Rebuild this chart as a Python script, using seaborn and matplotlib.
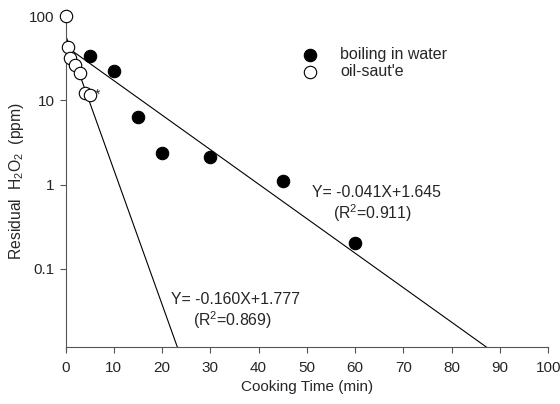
import matplotlib
matplotlib.use("Agg")
import matplotlib.pyplot as plt
import seaborn as sns
import numpy as np
from matplotlib.ticker import FixedLocator, FixedFormatter, NullLocator

# Residual H2O2 measurements (ppm) versus cooking time (min)
boil_time = [5, 10, 15, 20, 30, 45, 60]
boil_h2o2 = [33.5, 22.2, 6.4, 2.34, 2.13, 1.11, 0.203]
oil_time = [0, 0.5, 1, 2, 3, 4, 5]
oil_h2o2 = [100, 42.5, 31.5, 26.2, 20.9, 12.4, 11.7]

# log10(Y) = slope * X + intercept, with R^2
boil_slope, boil_intercept, boil_r2 = -0.041, 1.645, 0.911
oil_slope, oil_intercept, oil_r2 = -0.160, 1.777, 0.869

x_ticks = list(range(0, 101, 10))
y_ticks = [0.1, 1, 10, 100]
y_tick_labels = ["0.1", "1", "10", "100"]

sns.set_style("ticks")
plt.rcParams["font.family"] = ["Liberation Sans", "DejaVu Sans"]
plt.rcParams["mathtext.fontset"] = "custom"
plt.rcParams["mathtext.rm"] = "Liberation Sans"
plt.rcParams["mathtext.it"] = "Liberation Sans"

fig = plt.figure(figsize=(5.6, 4.04), dpi=100)
ax = fig.add_axes([0.117, 0.142, 0.862, 0.818])
ax.set_yscale("log")

# regression lines
xb = np.linspace(0.5, 100, 400)
xo = np.linspace(0, 30, 200)
sns.lineplot(x=xb, y=10 ** (boil_slope * xb + boil_intercept), color="black",
             lw=0.8, ax=ax, sort=False, estimator=None, zorder=2)
sns.lineplot(x=xo, y=10 ** (oil_slope * xo + oil_intercept), color="black",
             lw=0.8, ax=ax, sort=False, estimator=None, zorder=2)

sns.scatterplot(x=boil_time, y=boil_h2o2, color="black", edgecolor="black",
                s=80, linewidth=0.8, ax=ax, zorder=3, label="boiling in water")
sns.scatterplot(x=oil_time, y=oil_h2o2, color="white", edgecolor="black",
                s=80, linewidth=0.8, ax=ax, zorder=3, label="oil-saut'e", clip_on=False)

ax.set_xlim(0, 100)
ax.set_ylim(0.0119, 100)

ax.xaxis.set_major_locator(FixedLocator(x_ticks))
ax.yaxis.set_major_locator(FixedLocator(y_ticks))
ax.yaxis.set_major_formatter(FixedFormatter(y_tick_labels))
ax.yaxis.set_minor_locator(NullLocator())
ax.tick_params(axis="both", direction="out", length=4, width=0.8,
               color="#555555", labelsize=11, pad=4)
ax.tick_params(axis="x", pad=6)

sns.despine(ax=ax)
for side in ("left", "bottom"):
    ax.spines[side].set_linewidth(0.8)
    ax.spines[side].set_color("#555555")
ax.spines["left"].set_bounds(0.0105, 100)

ax.set_xlabel("Cooking Time (min)", fontsize=11, labelpad=4)
ax.set_ylabel("Residual  H$_2$O$_2$  (ppm)", fontsize=11.3, labelpad=2)

ax.text(6.6, 11.7, "*", fontsize=10, ha="center", va="center")

eq_size = 11.4
ax.text(51.0, 10 ** -0.10, f"Y= {boil_slope:.3f}X+{boil_intercept:.3f}",
        fontsize=eq_size, ha="left", va="center")
ax.text(55.5, 10 ** -0.34, f"(R$^2$={boil_r2:.3f})",
        fontsize=eq_size, ha="left", va="center")
ax.text(21.8, 10 ** -1.37, f"Y= {oil_slope:.3f}X+{oil_intercept:.3f}",
        fontsize=eq_size, ha="left", va="center")
ax.text(26.5, 10 ** -1.61, f"(R$^2$={oil_r2:.3f})",
        fontsize=eq_size, ha="left", va="center")

ax.legend(loc="upper left", bbox_to_anchor=(0.46, 0.925), frameon=False,
          fontsize=11.5, handletextpad=0.9, labelspacing=0.12,
          borderaxespad=0, markerscale=1.0)

fig.savefig("out.png", dpi=100)
